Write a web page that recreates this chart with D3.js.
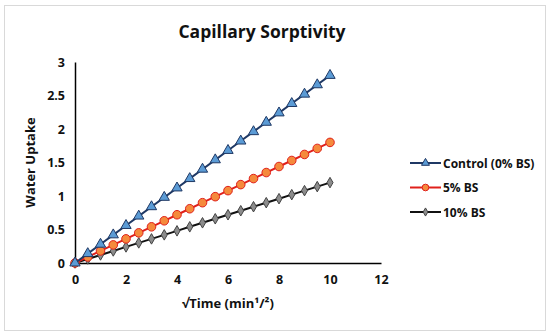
<!DOCTYPE html>
<html>
<head>
<meta charset="utf-8">
<script src="https://cdn.jsdelivr.net/npm/d3@7"></script>
<style>
  body { margin: 0; background: #fff; }
  text { font-family: "Open Sans", "Liberation Sans", sans-serif; }
</style>
</head>
<body>
<svg id="chart" width="550" height="336"></svg>
<script>
// x positions (sqrt of time, min^1/2)
var sqrtTime = [0, 0.5, 1, 1.5, 2, 2.5, 3, 3.5, 4, 4.5, 5, 5.5, 6, 6.5, 7, 7.5, 8, 8.5, 9, 9.5, 10];

// water uptake readings per mix
var control = [0, 0.14, 0.28, 0.42, 0.56, 0.70, 0.84, 0.98, 1.12, 1.26, 1.40, 1.54, 1.68, 1.82, 1.96, 2.10, 2.24, 2.38, 2.52, 2.66, 2.80];
var bs5 = [0, 0.09, 0.18, 0.27, 0.36, 0.45, 0.54, 0.63, 0.72, 0.81, 0.90, 0.99, 1.08, 1.17, 1.26, 1.35, 1.44, 1.53, 1.62, 1.71, 1.80];
var bs10 = [0, 0.06, 0.12, 0.18, 0.24, 0.30, 0.36, 0.42, 0.48, 0.54, 0.60, 0.66, 0.72, 0.78, 0.84, 0.90, 0.96, 1.02, 1.08, 1.14, 1.20];

var seriesNames = ['Control (0% BS)', '5% BS', '10% BS'];
var xTicks = [0, 2, 4, 6, 8, 10, 12];
var yTicks = [0, 0.5, 1, 1.5, 2, 2.5, 3];

var series = [
  {name: seriesNames[0], values: control, line: '#1f3864', fill: '#5b9bd5', stroke: '#1f3864', shape: d3.symbolTriangle, size: 46},
  {name: seriesNames[1], values: bs5, line: '#e0201b', fill: '#f58a3c', stroke: '#e0201b', shape: d3.symbolCircle, size: 58},
  {name: seriesNames[2], values: bs10, line: '#111111', fill: '#8c8c8c', stroke: '#444444', shape: d3.symbolDiamond, size: 32}
];

var svg = d3.select('#chart');

// outer border of the chart area
svg.append('rect')
  .attr('x', 4.5).attr('y', 5.5)
  .attr('width', 541).attr('height', 325)
  .attr('fill', '#fff')
  .attr('stroke', '#d9d9d9');

var x = d3.scaleLinear().domain([0, 12]).range([75, 381]);
var y = d3.scaleLinear().domain([0, 3]).range([263, 62]);

svg.append('text')
  .attr('x', 262).attr('y', 38)
  .attr('text-anchor', 'middle')
  .attr('font-size', 17.5)
  .attr('font-weight', 'bold')
  .attr('fill', '#111')
  .text('Capillary Sorptivity');

// axes
var xAxis = svg.append('g')
  .attr('transform', 'translate(0,' + y(0) + ')')
  .call(d3.axisBottom(x).tickValues(xTicks).tickSize(0).tickPadding(12));
var yAxis = svg.append('g')
  .attr('transform', 'translate(' + x(0) + ',0)')
  .call(d3.axisLeft(y).tickValues(yTicks).tickSize(0).tickPadding(10)
    .tickFormat(function(d) { return String(d); }));

[xAxis, yAxis].forEach(function(g) {
  g.select('.domain').attr('stroke', '#000').attr('stroke-width', 1.5);
  g.selectAll('text')
    .attr('font-size', 12.5)
    .attr('font-weight', 'bold')
    .attr('fill', '#111')
    .style('font-family', '"Open Sans", sans-serif');
});

svg.append('text')
  .attr('x', 228).attr('y', 308)
  .attr('text-anchor', 'middle')
  .attr('font-size', 13)
  .attr('font-weight', 'bold')
  .attr('fill', '#111')
  .text('√Time (min¹/²)');

svg.append('text')
  .attr('transform', 'translate(35,' + y(1.5) + ') rotate(-90)')
  .attr('text-anchor', 'middle')
  .attr('font-size', 13)
  .attr('font-weight', 'bold')
  .attr('fill', '#111')
  .text('Water Uptake');

var line = d3.line()
  .x(function(d, i) { return x(sqrtTime[i]); })
  .y(function(d) { return y(d); });

// draw lowest first so control sits on top
series.slice().reverse().forEach(function(s) {
  var g = svg.append('g');
  g.append('path')
    .datum(s.values)
    .attr('d', line)
    .attr('fill', 'none')
    .attr('stroke', s.line)
    .attr('stroke-width', 2);
  g.selectAll('path.pt')
    .data(s.values)
    .enter().append('path')
    .attr('class', 'pt')
    .attr('transform', function(d, i) { return 'translate(' + x(sqrtTime[i]) + ',' + y(d) + ')'; })
    .attr('d', d3.symbol().type(s.shape).size(s.size))
    .attr('fill', s.fill)
    .attr('stroke', s.stroke)
    .attr('stroke-width', 1);
});

// legend
var legend = svg.append('g');
series.forEach(function(s, i) {
  var ly = 163 + i * 24.5;
  legend.append('line')
    .attr('x1', 410).attr('x2', 441)
    .attr('y1', ly).attr('y2', ly)
    .attr('stroke', s.line).attr('stroke-width', 2);
  legend.append('path')
    .attr('transform', 'translate(425.5,' + ly + ')')
    .attr('d', d3.symbol().type(s.shape).size(s.size * 0.6))
    .attr('fill', s.fill)
    .attr('stroke', s.stroke);
  legend.append('text')
    .attr('x', 443).attr('y', ly + 4.5)
    .attr('font-size', 12)
    .attr('font-weight', 'bold')
    .attr('fill', '#111')
    .text(s.name);
});
</script>
</body>
</html>
